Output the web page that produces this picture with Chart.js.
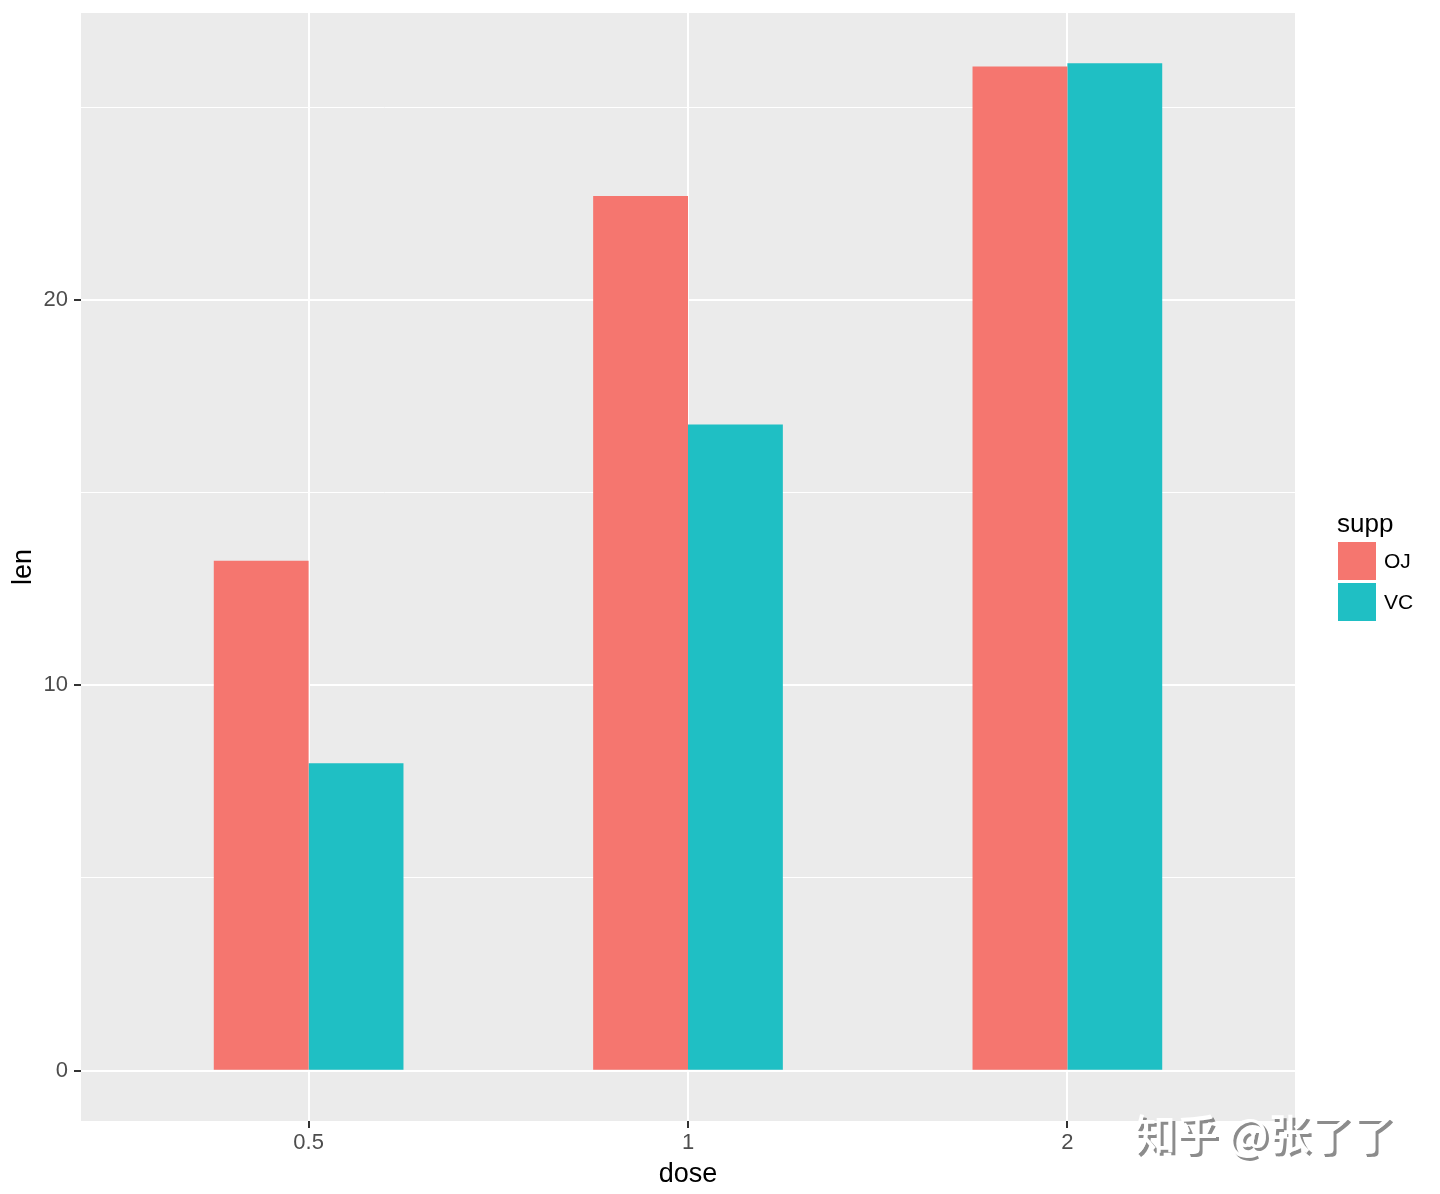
<!DOCTYPE html>
<html>
<head>
<meta charset="utf-8">
<script src="https://cdn.jsdelivr.net/npm/chart.js@4"></script>
<style>
  html, body { margin: 0; padding: 0; background: #fff; }
  #wrap { position: relative; width: 1440px; height: 1194px; }
</style>
</head>
<body>
<div id="wrap"><canvas id="chart" width="1440" height="1194"></canvas></div>
<script>
// === Data (ToothGrowth means) ===
const doses = ["0.5", "1", "2"];
const supps = ["OJ", "VC"];
const ojLen = [13.23, 22.70, 26.06];
const vcLen = [7.98, 16.77, 26.14];
const suppColors = ["#F5766F", "#1FBFC4"];
const yTicks = [0, 5, 10, 15, 20, 25];
const yMin = -1.307;
const yMax = 27.447;

const FONT = '"Liberation Sans", Arial, Helvetica, sans-serif';

// grey panel behind the plot area
const panelBg = {
  id: "panelBg",
  beforeDraw(chart) {
    const { ctx, chartArea: a } = chart;
    ctx.save();
    ctx.fillStyle = "#EBEBEB";
    ctx.fillRect(a.left, a.top, a.right - a.left, a.bottom - a.top);
    ctx.restore();
  },
};

// ggplot-style legend + watermark
const sideLegend = {
  id: "sideLegend",
  afterDraw(chart) {
    const ctx = chart.ctx;
    ctx.save();
    ctx.fillStyle = "#000";
    ctx.textBaseline = "alphabetic";
    ctx.textAlign = "left";
    ctx.font = `26px ${FONT}`;
    ctx.fillText("supp", 1337, 532);
    supps.forEach((name, i) => {
      ctx.fillStyle = suppColors[i];
      ctx.fillRect(1338, 542 + 41 * i, 38, 38);
      ctx.fillStyle = "#000";
      ctx.font = `21px ${FONT}`;
      ctx.textBaseline = "middle";
      ctx.fillText(name, 1384, 562 + 41 * i);
    });

    // watermark
    ctx.font = '500 42px "Noto Sans CJK SC", sans-serif';
    ctx.textBaseline = "middle";
    ctx.fillStyle = "rgba(120,120,120,0.85)";
    ctx.fillText("知乎 @张了了", 1137, 1137);
    ctx.fillStyle = "#fff";
    ctx.fillText("知乎 @张了了", 1134, 1134);
    ctx.restore();
  },
};

const isMajor = (v) => v % 10 === 0;

const ctx = document.getElementById("chart").getContext("2d");
new Chart(ctx, {
  type: "bar",
  data: {
    datasets: [
      {
        label: supps[0],
        data: ojLen.map((v, i) => ({ x: i + 1, y: v })),
        backgroundColor: suppColors[0],
      },
      {
        label: supps[1],
        data: vcLen.map((v, i) => ({ x: i + 1, y: v })),
        backgroundColor: suppColors[1],
      },
    ],
  },
  options: {
    responsive: false,
    devicePixelRatio: 1,
    animation: false,
    barPercentage: 1,
    categoryPercentage: 0.5,
    layout: { padding: { left: 0, top: 13, right: 145, bottom: 0 } },
    plugins: {
      legend: { display: false },
      tooltip: { enabled: false },
    },
    scales: {
      x: {
        type: "linear",
        min: 0.4,
        max: 3.6,
        offset: false,
        afterBuildTicks: (axis) => {
          axis.ticks = doses.map((d, i) => ({ value: i + 1 }));
        },
        afterFit: (s) => {
          s.height = 73;
          s.paddingLeft = 0;
          s.paddingRight = 0;
        },
        ticks: {
          callback: (v, i) => doses[i],
          color: "#4D4D4D",
          font: { family: FONT, size: 22 },
          padding: 2,
          maxRotation: 0,
          autoSkip: false,
        },
        grid: {
          offset: false,
          color: "#FFFFFF",
          lineWidth: 2,
          drawTicks: true,
          tickLength: 7,
          tickColor: "#333333",
          tickWidth: 2,
        },
        border: { display: false },
        title: {
          display: true,
          text: "dose",
          color: "#000",
          font: { family: FONT, size: 27 },
          padding: { top: 0, bottom: 3 },
        },
      },
      y: {
        min: yMin,
        max: yMax,
        afterBuildTicks: (axis) => {
          axis.ticks = yTicks.map((v) => ({ value: v }));
        },
        afterFit: (s) => {
          s.width = 81;
          s.paddingTop = 0;
          s.paddingBottom = 0;
        },
        ticks: {
          callback: (v) => (isMajor(v) ? String(v) : ""),
          color: "#4D4D4D",
          font: { family: FONT, size: 22 },
          padding: 6,
        },
        grid: {
          color: "#FFFFFF",
          lineWidth: (c) => (c.tick && isMajor(c.tick.value) ? 2 : 1),
          drawTicks: true,
          tickLength: 7,
          tickColor: (c) =>
            c.tick && isMajor(c.tick.value) ? "#333333" : "rgba(0,0,0,0)",
          tickWidth: 2,
        },
        border: { display: false },
        title: {
          display: true,
          text: "len",
          color: "#000",
          font: { family: FONT, size: 27 },
          padding: { top: 7, bottom: 0 },
        },
      },
    },
  },
  plugins: [panelBg, sideLegend],
});
</script>
</body>
</html>
